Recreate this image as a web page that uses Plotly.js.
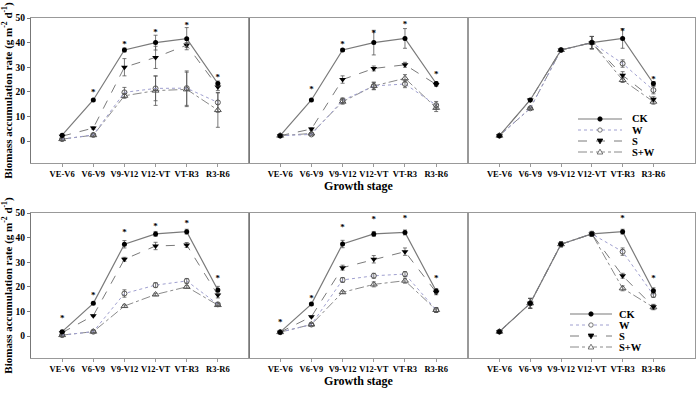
<!DOCTYPE html>
<html>
<head>
<meta charset="utf-8">
<script src="https://cdn.plot.ly/plotly-3.0.1.min.js"></script>
<style>html,body{margin:0;padding:0;background:#fff;}#chart{width:699px;height:394px;}</style>
</head>
<body>
<div id="chart"></div>
<script>
// ---------- data ----------
const stages = ['VE-V6','V6-V9','V9-V12','V12-VT','VT-R3','R3-R6'];
const seriesNames = ['CK','W','S','S+W'];

// top-left panel
const tl_CK = [2.4, 16.7, 37.0, 40.0, 41.6, 23.4];
const tl_W  = [0.8, 2.5, 19.8, 21.4, 21.5, 15.7];
const tl_S  = [2.0, 5.3, 30.0, 34.0, 39.0, 22.0];
const tl_SW = [0.8, 2.4, 18.4, 20.5, 21.0, 12.6];
const tl_CK_err = [0.3, 0.3, 0.8, 3.0, 4.5, 1.0];
const tl_W_err  = [0.3, 0.5, 2.0, 5.0, 7.0, 4.0];
const tl_S_err  = [0.3, 0.5, 3.5, 4.5, 1.0, 1.5];
const tl_SW_err = [0.3, 0.3, 1.0, 6.0, 7.0, 7.0];
const tl_sig = [null, 19.6, 39.3, 44.2, 47.0, 25.9];

// top-middle panel
const tm_CK = [2.2, 16.7, 37.0, 40.0, 41.7, 23.4];
const tm_W  = [2.2, 2.7, 16.5, 22.4, 23.2, 14.6];
const tm_S  = [2.2, 4.9, 25.0, 29.5, 31.0, 23.0];
const tm_SW = [2.2, 3.1, 16.0, 22.4, 25.5, 13.5];
const tm_CK_err = [0.2, 0.3, 0.5, 5.0, 4.0, 0.8];
const tm_W_err  = [0.2, 0.3, 1.0, 1.5, 1.5, 1.5];
const tm_S_err  = [0.2, 0.5, 1.5, 1.0, 1.0, 0.8];
const tm_SW_err = [0.2, 0.3, 1.0, 1.5, 1.5, 1.5];
const tm_sig = [null, 20.7, 39.3, 43.5, 47.2, 26.8];

// top-right panel
const tr_CK = [2.2, 16.7, 37.0, 40.0, 41.7, 23.4];
const tr_W  = [2.2, 13.3, 37.0, 40.0, 31.5, 20.7];
const tr_S  = [2.2, 16.7, 37.0, 40.0, 26.7, 17.0];
const tr_SW = [2.2, 13.3, 37.0, 40.0, 24.8, 16.0];
const tr_CK_err = [0.2, 0.3, 0.3, 2.5, 4.0, 0.8];
const tr_W_err  = [0.2, 0.3, 0.3, 2.5, 1.5, 1.5];
const tr_S_err  = [0.2, 0.3, 0.3, 2.5, 1.5, 1.0];
const tr_SW_err = [0.2, 0.3, 0.3, 2.5, 1.0, 1.0];
const tr_sig = [null, null, null, null, 44.4, 24.8];

// bottom-left panel
const bl_CK = [1.8, 13.3, 37.3, 41.5, 42.4, 18.7];
const bl_W  = [0.4, 1.8, 17.3, 20.7, 22.4, 12.9];
const bl_S  = [1.4, 8.3, 31.2, 36.6, 37.0, 16.7];
const bl_SW = [0.4, 1.8, 12.2, 16.9, 20.0, 12.6];
const bl_CK_err = [0.5, 0.5, 1.5, 1.0, 1.0, 1.5];
const bl_W_err  = [0.3, 0.5, 1.5, 1.0, 1.0, 0.5];
const bl_S_err  = [0.3, 0.3, 0.8, 1.5, 1.0, 1.2];
const bl_SW_err = [0.2, 0.3, 0.5, 0.5, 0.5, 0.5];
const bl_sig = [6.9, 16.4, 42.0, 44.4, 45.5, 23.2];

// bottom-middle panel
const bm_CK = [1.6, 13.0, 37.4, 41.5, 42.1, 18.3];
const bm_W  = [1.6, 4.7, 22.8, 24.5, 25.2, 10.6];
const bm_S  = [1.6, 7.9, 27.8, 31.2, 34.3, 17.8];
const bm_SW = [1.6, 4.7, 17.8, 21.0, 22.5, 10.6];
const bm_CK_err = [0.2, 0.5, 1.5, 1.0, 1.0, 1.0];
const bm_W_err  = [0.2, 0.5, 1.0, 1.0, 1.0, 1.0];
const bm_S_err  = [0.2, 0.3, 1.0, 1.5, 1.5, 1.0];
const bm_SW_err = [0.2, 0.5, 0.5, 1.0, 1.0, 1.0];
const bm_sig = [5.6, 15.3, 44.2, 47.2, 47.6, 23.4];

// bottom-right panel
const br_CK = [1.8, 13.3, 37.3, 41.5, 42.4, 18.4];
const br_W  = [1.8, 13.3, 37.3, 41.5, 34.3, 16.7];
const br_S  = [1.8, 13.3, 37.3, 41.5, 24.5, 11.9];
const br_SW = [1.8, 13.3, 37.3, 41.5, 19.4, 11.7];
const br_CK_err = [0.2, 2.0, 1.0, 1.0, 1.0, 1.2];
const br_W_err  = [0.2, 2.0, 1.0, 1.0, 1.5, 1.0];
const br_S_err  = [0.2, 2.0, 1.0, 1.0, 1.0, 1.0];
const br_SW_err = [0.2, 2.0, 1.0, 1.0, 1.0, 1.0];
const br_sig = [null, null, null, null, 47.6, 23.2];

const xTitle = 'Growth stage';
const yTitle = 'Biomass accumulation rate (g m<sup>-2</sup> d<sup>-1</sup>)';

// ---------- styles ----------
const FONT = 'Liberation Serif, Times New Roman, serif';
const styles = {
  'CK':  {line:{color:'#7a7a7a', width:1.2, dash:'solid'},   marker:{symbol:'circle', size:5, color:'#000'}},
  'W':   {line:{color:'#a0a0d0', width:1.0, dash:'dot'},     marker:{symbol:'circle-open', size:5, color:'#555', line:{width:1}}},
  'S':   {line:{color:'#7a7a7a', width:1.0, dash:'dash'},    marker:{symbol:'triangle-down', size:6, color:'#000'}},
  'S+W': {line:{color:'#8a8a8a', width:1.0, dash:'dashdot'}, marker:{symbol:'triangle-up-open', size:6, color:'#555', line:{width:1}}}
};

const panels = [
  {id:'', vals:[tl_CK,tl_W,tl_S,tl_SW], errs:[tl_CK_err,tl_W_err,tl_S_err,tl_SW_err], sig:tl_sig},
  {id:'2', vals:[tm_CK,tm_W,tm_S,tm_SW], errs:[tm_CK_err,tm_W_err,tm_S_err,tm_SW_err], sig:tm_sig},
  {id:'3', vals:[tr_CK,tr_W,tr_S,tr_SW], errs:[tr_CK_err,tr_W_err,tr_S_err,tr_SW_err], sig:tr_sig},
  {id:'4', vals:[bl_CK,bl_W,bl_S,bl_SW], errs:[bl_CK_err,bl_W_err,bl_S_err,bl_SW_err], sig:bl_sig},
  {id:'5', vals:[bm_CK,bm_W,bm_S,bm_SW], errs:[bm_CK_err,bm_W_err,bm_S_err,bm_SW_err], sig:bm_sig},
  {id:'6', vals:[br_CK,br_W,br_S,br_SW], errs:[br_CK_err,br_W_err,br_S_err,br_SW_err], sig:br_sig}
];

const traces = [];
panels.forEach(p => {
  for (let k = seriesNames.length - 1; k >= 0; k--) {
    const nm = seriesNames[k];
    traces.push({
      type:'scatter', mode:'lines+markers', name:nm, showlegend:false,
      x: stages, y: p.vals[k],
      xaxis:'x'+p.id, yaxis:'y'+p.id,
      line: styles[nm].line, marker: styles[nm].marker,
      error_y:{type:'data', array:p.errs[k], visible:true, color:'#555', thickness:0.8, width:2},
      cliponaxis:false
    });
  }
  const idx = p.sig.map((v, j) => j).filter(j => p.sig[j] !== null);
  traces.push({
    type:'scatter', mode:'text', showlegend:false,
    x: idx.map(j => stages[j]), y: idx.map(j => p.sig[j]), text: idx.map(() => '*'),
    textposition:'middle center',
    textfont:{family:FONT, size:9, color:'#000', weight:'bold'},
    xaxis:'x'+p.id, yaxis:'y'+p.id, hoverinfo:'skip', cliponaxis:false
  });
});

// ---------- layout ----------
const W = 699, H = 394;
const xd = [[31/W, 249/W], [249/W, 468/W], [468/W, 695/W]];
const yd = [[1-163/H, 1-18/H], [1-358/H, 1-213/H]];
const xRanges = [[-1, 6], [-1, 6.02], [-1.02, 6.35]];
const tickFont = {family:FONT, size:8.5, color:'#000', weight:'bold'};

const layout = {
  width: W, height: H, autosize:false,
  margin:{l:0, r:0, t:0, b:0},
  paper_bgcolor:'#fff', plot_bgcolor:'#fff',
  showlegend:false,
  font:{family:FONT, color:'#000'},
  annotations:[], shapes:[]
};

for (let i = 0; i < 6; i++) {
  const col = i % 3, row = Math.floor(i / 3);
  const sfx = i === 0 ? '' : String(i + 1);
  const xa = {
    domain: xd[col], anchor: 'y' + sfx,
    type:'category', categoryorder:'array', categoryarray: stages,
    range: xRanges[col], tickangle:0,
    showline:true, mirror:true, linecolor:'#999', linewidth:1,
    ticks:'outside', ticklen:3, tickcolor:'#999',
    tickfont: tickFont, showgrid:false, zeroline:false, automargin:false
  };
  if (col === 1) xa.title = {text:xTitle, font:{family:FONT, size:12, color:'#000', weight:'bold'}, standoff:1};
  layout['xaxis' + sfx] = xa;
  const ya = {
    domain: yd[row], anchor: 'x' + sfx,
    range:[-8.9, 50], dtick:10, tick0:0,
    showline:true, mirror:true, linecolor: col === 0 ? '#777' : '#999', linewidth:1,
    ticks: col === 0 ? 'outside' : '', ticklen:3, tickcolor:'#777',
    showticklabels: col === 0,
    tickfont: {family:FONT, size:9.5, color:'#000', weight:'bold'},
    showgrid:false, zeroline:false, automargin:false
  };
  if (col === 0) ya.title = {text:yTitle, font:{family:FONT, size:11, color:'#000', weight:'bold'}, standoff:4};
  layout['yaxis' + sfx] = ya;
}

// ---------- manual legends (right panels) ----------
function addLegend(x0, x1, xt, rows) {
  seriesNames.forEach((nm, k) => {
    const yp = 1 - rows[k] / H;
    const st = styles[nm];
    layout.shapes.push({type:'line', xref:'paper', yref:'paper',
      x0:x0/W, x1:x1/W, y0:yp, y1:yp,
      line:{color:st.line.color, width:st.line.width, dash:st.line.dash}});
    const xc = (x0 + x1) / 2 / W;
    if (nm === 'CK' || nm === 'W') {
      layout.shapes.push({type:'circle', xref:'paper', yref:'paper',
        xsizemode:'pixel', ysizemode:'pixel', xanchor:xc, yanchor:yp,
        x0:-2.2, x1:2.2, y0:-2.2, y1:2.2,
        fillcolor: nm === 'CK' ? '#000' : '#fff', line:{color: nm === 'CK' ? '#000' : '#555', width:0.8}});
    } else {
      const path = nm === 'S' ? 'M-2.8,2 L2.8,2 L0,-2.8 Z' : 'M-2.8,-2 L2.8,-2 L0,2.8 Z';
      layout.shapes.push({type:'path', xref:'paper', yref:'paper',
        xsizemode:'pixel', ysizemode:'pixel', xanchor:xc, yanchor:yp,
        path:path, fillcolor: nm === 'S' ? '#000' : '#fff', line:{color: nm === 'S' ? '#000' : '#555', width:0.8}});
    }
    layout.annotations.push({xref:'paper', yref:'paper', x:xt/W, y:yp,
      xanchor:'left', yanchor:'middle', showarrow:false, text:nm,
      font:{family:FONT, size:10.5, color:'#000', weight:'bold'}});
  });
}
addLegend(578, 622, 630, [119, 130, 141, 152]);
addLegend(570, 612, 617, [314, 325, 336, 347]);

Plotly.newPlot('chart', traces, layout, {staticPlot:true, displayModeBar:false}).then(() => {
  // drop empty placeholder text nodes (untitled axes)
  document.querySelectorAll('#chart text').forEach(t => { if (!t.textContent.trim()) t.remove(); });
});
</script>
</body>
</html>
